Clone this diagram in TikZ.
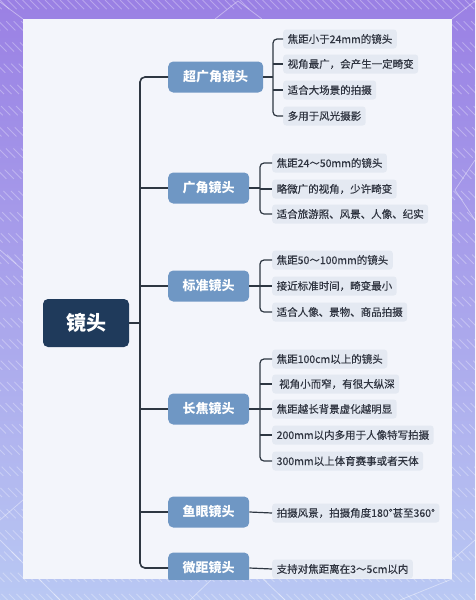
\documentclass[tikz,border=0pt]{standalone}
\usepackage{fontspec}
\setmainfont{Noto Sans CJK SC}
\newfontfamily\leaffont[FakeBold=0.35]{Noto Sans CJK SC}
\usetikzlibrary{calc}
\definecolor{bgP}{HTML}{9A80E4}
\definecolor{bgB}{HTML}{B9C8F3}
\definecolor{panelc}{HTML}{F3F5FB}
\definecolor{rootc}{HTML}{1F3A5B}
\definecolor{lvlc}{HTML}{6F97C4}
\definecolor{leafc}{HTML}{E4E9F2}
\definecolor{linec}{HTML}{2E3742}
\definecolor{txtc}{HTML}{2F3440}
\begin{document}
\begin{tikzpicture}[x=1pt,y=-1pt,
  rootbox/.style={fill=rootc, text=white, rounded corners=5pt, minimum width=86pt, minimum height=48pt, font=\fontsize{20}{22}\selectfont\bfseries, inner sep=0pt},
  lvlbox/.style={fill=lvlc, text=white, rounded corners=5pt, minimum height=31pt, minimum width=81pt, font=\fontsize{13}{15}\selectfont\bfseries, inner sep=0pt, anchor=west},
  leafbox/.style={fill=leafc, text=txtc, rounded corners=3pt, minimum height=19pt, inner xsep=4.5pt, inner ysep=0pt, font=\leaffont\fontsize{10.5}{12}\selectfont, anchor=west},
  trunk/.style={draw=linec, line width=1.6pt, rounded corners=5pt},
  brk/.style={draw=linec, line width=1.2pt, rounded corners=4pt},
  stripe/.style={draw=white, opacity=0.3, line width=0.9pt, dash pattern=on 13pt off 17pt},
  bigline/.style={draw=white, opacity=0.4, line width=0.8pt},
]
\useasboundingbox (0,0) rectangle (475,600);
% background
\shade[shading angle=45, top color=bgP, bottom color=bgB] (0,0) rectangle (475,600);
\foreach \i in {-90,...,70} {
  \draw[stripe] (\i*7.5,0) -- ++(600,600);
}
\draw[bigline] (0,2) -- (23,19);
\draw[bigline] (215,19) -- (238,1) -- (262,19);
\draw[bigline] (452,19) -- (475,1);
\draw[bigline] (475,160) -- (455,190) -- (475,220);
\draw[bigline] (0,250) -- (23,270);
\draw[bigline] (0,520) -- (23,500);
\draw[bigline] (0,540) -- (60,600);
\draw[bigline] (190,600) -- (212,579);
\draw[bigline] (263,579) -- (285,600);
\draw[bigline] (452,560) -- (475,540);
\draw[bigline] (400,600) -- (452,579);
% panel
\fill[panelc] (23,19) rectangle (452,579);
\begin{scope}
\clip (23,19) rectangle (452,579);
% root
\node[rootbox] (root) at (86,323) {镜头};
% level 1
\node[lvlbox, minimum width=95pt] (a) at (168,77) {超广角镜头};
\node[lvlbox] (b) at (168,188) {广角镜头};
\node[lvlbox] (c) at (168,286) {标准镜头};
\node[lvlbox] (d) at (168,409) {长焦镜头};
\node[lvlbox] (e) at (168,512) {鱼眼镜头};
\node[lvlbox] (f) at (168,568) {微距镜头};
% leaves
\node[leafbox] (a1) at (283,39) {焦距小于24mm的镜头};
\node[leafbox] (a2) at (283,64) {视角最广，会产生一定畸变};
\node[leafbox] (a3) at (283,90) {适合大场景的拍摄};
\node[leafbox] (a4) at (283,116) {多用于风光摄影};
\node[leafbox] (b1) at (272,163) {焦距24～50mm的镜头};
\node[leafbox] (b2) at (272,189) {略微广的视角，少许畸变};
\node[leafbox] (b3) at (272,214) {适合旅游照、风景、人像、纪实};
\node[leafbox] (c1) at (272,260) {焦距50～100mm的镜头};
\node[leafbox] (c2) at (272,286) {接近标准时间，畸变最小};
\node[leafbox] (c3) at (272,312) {适合人像、景物、商品拍摄};
\node[leafbox] (d1) at (272,359) {焦距100cm以上的镜头};
\node[leafbox] (d2) at (272,384) {\hspace{2.5pt}视角小而窄，有很大纵深};
\node[leafbox] (d3) at (272,409) {焦距越长背景虚化越明显};
\node[leafbox] (d4) at (272,435) {200mm以内多用于人像特写拍摄};
\node[leafbox] (d5) at (272,461) {300mm以上体育赛事或者天体};
\node[leafbox] (e1) at (272,513) {拍摄风景，拍摄角度180°甚至360°};
\node[leafbox] (f1) at (272,569) {支持对焦距离在3～5cm以内};
% trunk
\coordinate (t) at (140,323);
\draw[trunk] (root.east) -- (t);
\draw[trunk] (a.west) -| (t) |- (f.west);
\foreach \n in {b,c,d,e} { \draw[trunk] (\n.west -| t) -- (\n.west); }
% brackets
\coordinate (ba) at (273,77);
\draw[brk] (a.east) -- (ba);
\draw[brk] (a1.west) -| (ba) |- (a4.west);
\foreach \n in {a2,a3} { \draw[brk] (\n.west -| ba) -- (\n.west); }
\coordinate (bb) at (260,188);
\draw[brk] (b.east) -- (bb);
\draw[brk] (b1.west) -| (bb) |- (b3.west);
\draw[brk] (b2.west -| bb) -- (b2.west);
\coordinate (bc) at (260,286);
\draw[brk] (c.east) -- (bc);
\draw[brk] (c1.west) -| (bc) |- (c3.west);
\draw[brk] (c2.west -| bc) -- (c2.west);
\coordinate (bd) at (260,409);
\draw[brk] (d.east) -- (bd);
\draw[brk] (d1.west) -| (bd) |- (d5.west);
\foreach \n in {d2,d3,d4} { \draw[brk] (\n.west -| bd) -- (\n.west); }
\draw[brk] (e.east) -- (e1.west);
\draw[brk] (f.east) -- (f1.west);
\end{scope}
\end{tikzpicture}
\end{document}
